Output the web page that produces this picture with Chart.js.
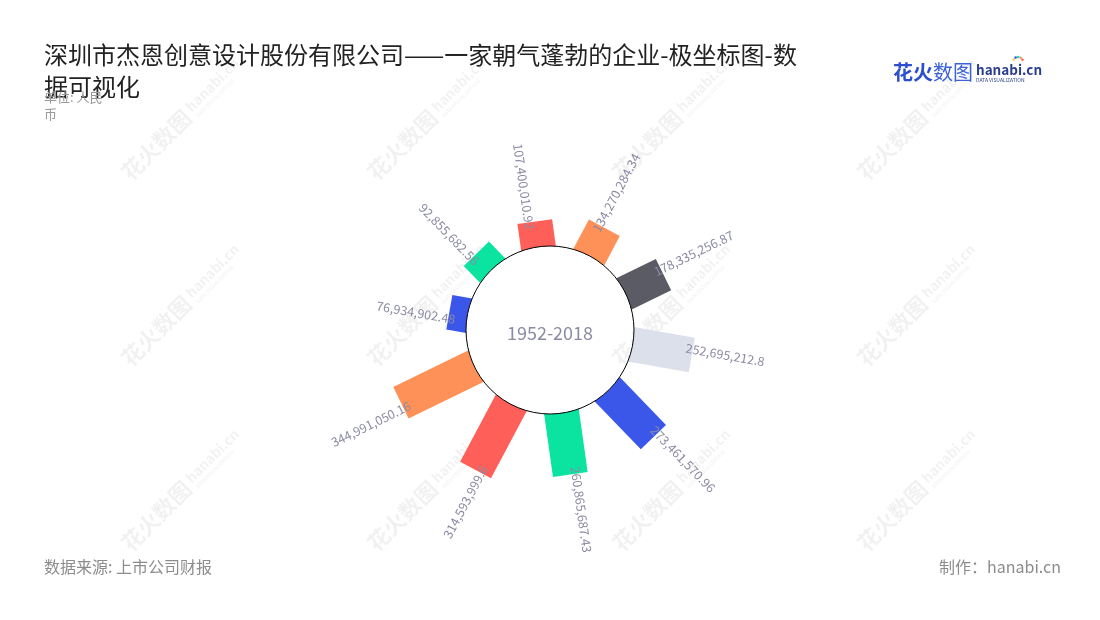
<!DOCTYPE html>
<html><head><meta charset="utf-8">
<script src="https://cdn.jsdelivr.net/npm/chart.js@4/dist/chart.umd.min.js"></script>
<style>html,body{margin:0;padding:0;background:#fff;}canvas{display:block;}</style>
</head><body>
<canvas id="c" width="1100" height="620"></canvas>
<script>
// ---- data ----
const titleText = '深圳市杰恩创意设计股份有限公司——一家朝气蓬勃的企业-极坐标图-数据可视化';
const subtitleLines = ['单位: 人民', '币'];
const centerLabel = '1952-2018';
const sourceText = '数据来源: 上市公司财报';
const creditText = '制作：hanabi.cn';
const valueLabels = ['76,934,902.48','92,855,682.56','107,400,010.92','134,270,284.34','178,335,256.87','252,695,212.8','273,461,570.96','260,865,687.43','314,593,999.6','344,991,050.16'];
const values = [76934902.48, 92855682.56, 107400010.92, 134270284.34, 178335256.87, 252695212.8, 273461570.96, 260865687.43, 314593999.6, 344991050.16];
const radialMin = -354e6;
const radialMax = 489e6;
// ---- styles ----
const palette = ['#3b57ea','#0be3a1','#fe5f58','#fe9157','#5b5b66','#dbe0eb'];
const FONT = '"Noto Sans CJK SC", "Noto Sans", sans-serif';
const labelColor = '#8b8ba3';

function drawWatermarks(ctx){
  ctx.save();
  ctx.fillStyle = 'rgba(0,0,0,0.055)';
  for (const x of [131, 377, 622, 867]) {
    for (const y of [182, 368, 553]) {
      ctx.save();
      ctx.translate(x, y);
      ctx.rotate(-Math.PI / 4);
      ctx.textAlign = 'left';
      ctx.textBaseline = 'alphabetic';
      ctx.font = 'bold 22px ' + FONT;
      ctx.fillText('花火数图', 0, 0);
      ctx.font = 'bold 14px ' + FONT;
      ctx.fillText('hanabi.cn', 92, -6);
      ctx.font = 'bold 5px ' + FONT;
      ctx.fillText('DATA VISUALIZATION', 93, 2);
      ctx.restore();
    }
  }
  ctx.restore();
}

const radialBars = {
  id: 'radialBars',
  beforeDatasetsDraw(chart) { drawWatermarks(chart.ctx); },
  afterDatasetsDraw(chart) {
    const ctx = chart.ctx, scale = chart.scales.r, meta = chart.getDatasetMeta(0);
    const cx = scale.xCenter, cy = scale.yCenter;
    const r0 = scale.getDistanceFromCenterForValue(0);
    // bars, clipped outside the inner circle
    ctx.save();
    ctx.beginPath();
    ctx.rect(0, 0, chart.width, chart.height);
    ctx.arc(cx, cy, r0, 0, Math.PI * 2, true);
    ctx.clip('evenodd');
    meta.data.forEach((pt, i) => {
      ctx.beginPath();
      ctx.moveTo(cx, cy);
      ctx.lineTo(pt.x, pt.y);
      ctx.lineWidth = 35;
      ctx.lineCap = 'butt';
      ctx.strokeStyle = palette[i % palette.length];
      ctx.stroke();
    });
    ctx.restore();
    // inner circle
    ctx.save();
    ctx.beginPath();
    ctx.arc(cx, cy, r0, 0, Math.PI * 2);
    ctx.lineWidth = 1;
    ctx.strokeStyle = '#000';
    ctx.stroke();
    ctx.fillStyle = labelColor;
    ctx.font = '18px ' + FONT;
    ctx.textAlign = 'center';
    ctx.textBaseline = 'middle';
    ctx.fillText(centerLabel, cx, cy + 3);
    // value labels
    ctx.font = '12.5px ' + FONT;
    meta.data.forEach((pt, i) => {
      const a = scale.getIndexAngle(i) - Math.PI / 2;
      const d = scale.getDistanceFromCenterForValue(values[i]) - 7;
      const ux = Math.cos(a), uy = Math.sin(a);
      const nx = uy, ny = -ux, off = 6;
      const x = cx + ux * d + nx * off, y = cy + uy * d + ny * off;
      ctx.save();
      ctx.translate(x, y);
      if (ux >= 0) { ctx.rotate(a); ctx.textAlign = 'left'; }
      else { ctx.rotate(a + Math.PI); ctx.textAlign = 'right'; }
      ctx.textBaseline = 'middle';
      ctx.fillText(valueLabels[i], 0, 0);
      ctx.restore();
    });
    ctx.restore();
  },
  afterDraw(chart) {
    const ctx = chart.ctx;
    ctx.save();
    // title with wrapping
    ctx.font = '24px ' + FONT;
    ctx.fillStyle = '#222';
    ctx.textAlign = 'left';
    ctx.textBaseline = 'middle';
    const lines = []; let cur = '';
    for (const ch of titleText) {
      if (ctx.measureText(cur + ch).width > 770) { lines.push(cur); cur = ch; } else cur += ch;
    }
    lines.push(cur);
    lines.forEach((l, i) => ctx.fillText(l, 44, 55 + i * 32));
    // subtitle
    ctx.font = '13px ' + FONT;
    ctx.fillStyle = '#999';
    subtitleLines.forEach((l, i) => ctx.fillText(l, 44, 97 + i * 17));
    // footer
    ctx.font = '16px ' + FONT;
    ctx.fillStyle = '#8c8c8c';
    ctx.fillText(sourceText, 44, 567);
    ctx.textAlign = 'right';
    ctx.fillText(creditText, 1061, 567);
    // logo
    ctx.textAlign = 'left';
    ctx.font = 'bold 20px ' + FONT;
    ctx.fillStyle = '#2c4fd0';
    ctx.fillText('花火', 893, 72);
    const w = ctx.measureText('花火').width;
    ctx.font = '20px ' + FONT;
    ctx.fillStyle = '#3a62d9';
    ctx.fillText('数图', 893 + w, 72);
    ctx.font = 'bold 13.5px ' + FONT;
    ctx.fillStyle = '#2a3d8f';
    ctx.fillText('hanabi.cn', 976, 70);
    ctx.font = '5px ' + FONT;
    ctx.fillText('DATA VISUALIZATION', 976, 80);
    const dots = ['#ff5f58','#fe9157','#0be3a1','#3b57ea','#f7c948'];
    dots.forEach((c, k) => {
      const ang = -Math.PI * (0.15 + k * 0.17);
      ctx.beginPath();
      ctx.fillStyle = c;
      ctx.arc(1018 + Math.cos(ang) * 5, 62 + Math.sin(ang) * 5, 1.3, 0, Math.PI * 2);
      ctx.fill();
    });
    ctx.restore();
  }
};

new Chart(document.getElementById('c'), {
  type: 'radar',
  data: {
    labels: valueLabels,
    datasets: [{
      data: values,
      showLine: false,
      borderWidth: 0,
      backgroundColor: 'rgba(0,0,0,0)',
      pointRadius: 0,
      pointHoverRadius: 0,
      pointHitRadius: 0,
      fill: false
    }]
  },
  options: {
    responsive: false,
    animation: false,
    devicePixelRatio: 1,
    events: [],
    layout: { padding: { left: 350, right: 350, top: 130, bottom: 90 } },
    plugins: { legend: { display: false }, tooltip: { enabled: false } },
    scales: {
      r: {
        min: radialMin,
        max: radialMax,
        startAngle: 280,
        ticks: { display: false },
        grid: { display: false },
        angleLines: { display: false },
        pointLabels: { display: false }
      }
    }
  },
  plugins: [radialBars]
});
</script>
</body></html>
